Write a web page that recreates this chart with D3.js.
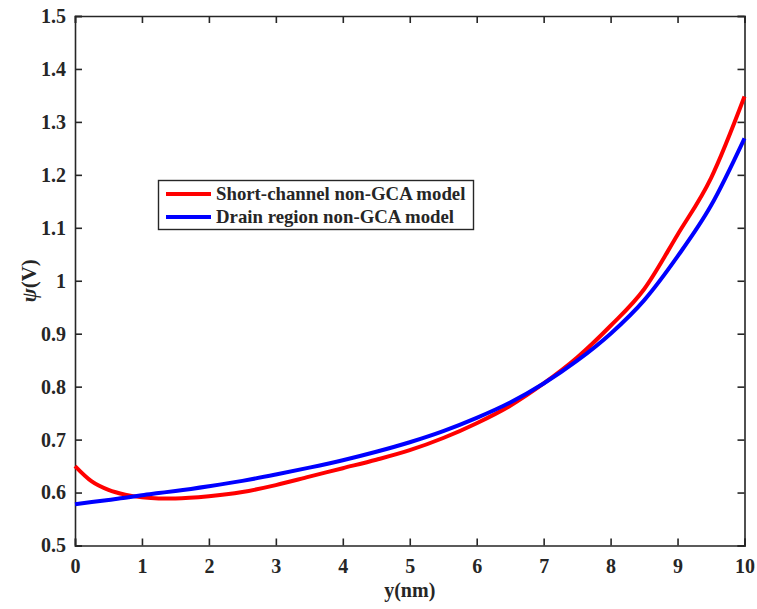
<!DOCTYPE html>
<html>
<head>
<meta charset="utf-8">
<script src="https://cdn.jsdelivr.net/npm/d3@7"></script>
<style>
  html, body { margin: 0; padding: 0; background: #fff; }
  svg { display: block; }
  text { font-family: "Liberation Serif", "Times New Roman", serif; font-weight: bold; fill: #262626; }
</style>
</head>
<body>
<svg id="chart" width="757" height="609"></svg>
<script>
// Position along the channel (nm)
const yPos = [0, 0.25, 0.5, 0.75, 1, 1.25, 1.5, 2, 2.5, 3, 3.5, 4, 4.5, 5, 5.5, 6, 6.5, 7, 7.5, 8, 8.5, 9, 9.5, 10];

// Surface potential (V) for each model
const shortChannel = [0.650, 0.621, 0.605, 0.596, 0.591, 0.589, 0.589, 0.593, 0.601, 0.614, 0.630, 0.646, 0.662, 0.680, 0.703, 0.731, 0.764, 0.806, 0.855, 0.915, 0.984, 1.087, 1.194, 1.348];
const drainRegion  = [0.578, 0.582, 0.586, 0.590, 0.595, 0.599, 0.603, 0.612, 0.622, 0.634, 0.647, 0.661, 0.677, 0.695, 0.716, 0.741, 0.770, 0.806, 0.849, 0.900, 0.963, 1.046, 1.142, 1.269];

const seriesNames = ["Short-channel non-GCA model", "Drain region non-GCA model"];
const seriesColors = ["#ff0000", "#0000ff"];

const xTicks = [0, 1, 2, 3, 4, 5, 6, 7, 8, 9, 10];
const yTicks = [0.5, 0.6, 0.7, 0.8, 0.9, 1, 1.1, 1.2, 1.3, 1.4, 1.5];

const svg = d3.select("#chart");
const margin = { left: 75, top: 16, right: 757 - 744.5, bottom: 609 - 545.5 };
const W = 757, H = 609;

const x = d3.scaleLinear().domain([0, 10]).range([margin.left, W - margin.right]);
const y = d3.scaleLinear().domain([0.5, 1.5]).range([H - margin.bottom, margin.top]);

const axisColor = "#262626";
const tickLen = 7;
const fmt = d => (d === 1 ? "1" : d3.format(".1f")(d));

// Bottom and left axes with labels, ticks pointing inward
const gx = svg.append("g").attr("transform", `translate(0,${y(0.5)})`)
  .call(d3.axisBottom(x).tickValues(xTicks).tickSize(-tickLen).tickPadding(13).tickFormat(d3.format("d")));
const gy = svg.append("g").attr("transform", `translate(${x(0)},0)`)
  .call(d3.axisLeft(y).tickValues(yTicks).tickSize(-tickLen).tickPadding(9).tickFormat(fmt));
// Top and right axes (ticks only)
const gt = svg.append("g").attr("transform", `translate(0,${y(1.5)})`)
  .call(d3.axisTop(x).tickValues(xTicks).tickSize(-tickLen).tickFormat(""));
const gr = svg.append("g").attr("transform", `translate(${x(10)},0)`)
  .call(d3.axisRight(y).tickValues(yTicks).tickSize(-tickLen).tickFormat(""));

[gx, gy, gt, gr].forEach(g => {
  g.select(".domain").attr("stroke", axisColor).attr("stroke-width", 1.6);
  g.selectAll(".tick line").attr("stroke", axisColor).attr("stroke-width", 1.6);
  g.selectAll(".tick text").attr("fill", axisColor)
    .style("font-family", "'Liberation Serif', serif").style("font-weight", "bold").style("font-size", "20px");
});

// Curves
const line = d3.line().x((d, i) => x(yPos[i])).y(d => y(d)).curve(d3.curveMonotoneX);
[shortChannel, drainRegion].forEach((vals, k) => {
  svg.append("path").datum(vals)
    .attr("fill", "none").attr("stroke", seriesColors[k]).attr("stroke-width", 4)
    .attr("d", line);
});

// Legend
const lg = svg.append("g");
lg.append("rect").attr("x", 158.5).attr("y", 180.5).attr("width", 315).attr("height", 49)
  .attr("fill", "#fff").attr("stroke", axisColor).attr("stroke-width", 1.4);
seriesNames.forEach((name, k) => {
  const cy = 194 + k * 23;
  lg.append("line").attr("x1", 166).attr("x2", 211).attr("y1", cy).attr("y2", cy)
    .attr("stroke", seriesColors[k]).attr("stroke-width", 4);
  lg.append("text").attr("x", 216).attr("y", cy).attr("dy", "0.33em")
    .style("font-size", "18.8px").text(name);
});

// Axis titles
svg.append("text").attr("x", (x(0) + x(10)) / 2).attr("y", 597)
  .attr("text-anchor", "middle").style("font-size", "20px").text("y(nm)");
const yt = svg.append("text").attr("transform", `translate(36,${(y(0.5) + y(1.5)) / 2}) rotate(-90)`)
  .attr("text-anchor", "middle").style("font-size", "21px");
yt.append("tspan").style("font-style", "italic").text("ψ");
yt.append("tspan").text("(V)");
</script>
</body>
</html>
